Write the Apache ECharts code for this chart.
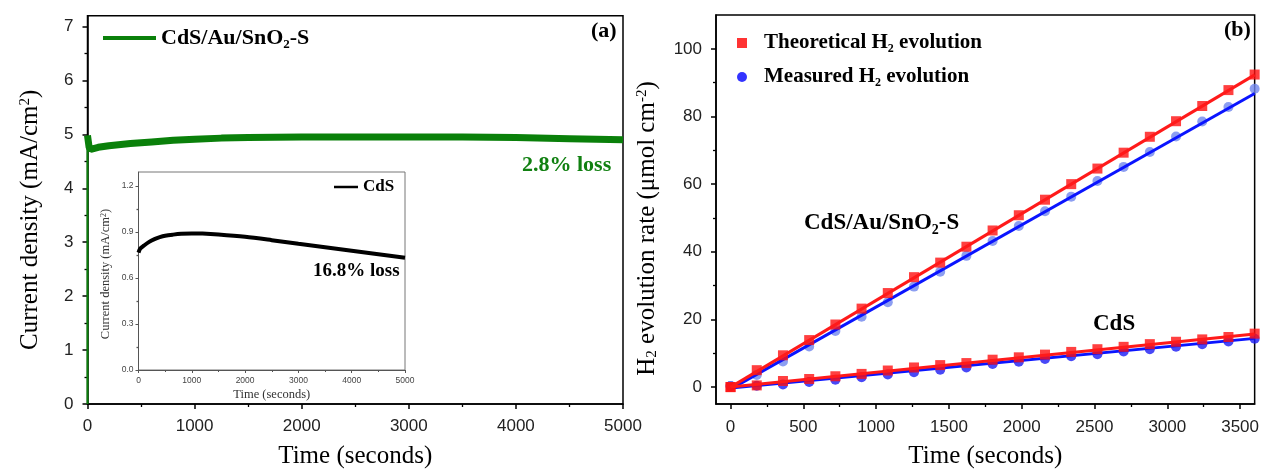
<!DOCTYPE html>
<html>
<head>
<meta charset="utf-8">
<script src="https://cdn.jsdelivr.net/npm/echarts@6.0.0/dist/echarts.min.js"></script>
<style>
html,body{margin:0;padding:0;background:#fff;}
#chart{width:1262px;height:474px;}
</style>
</head>
<body>
<div id="chart"></div>
<script>
// ---------- Data ----------
// (a) main: CdS/Au/SnO2-S chronoamperometry
const spikeT = [0, 0];
const spikeJ = [0, 4.98];
const greenT = [0, 15, 30, 100, 200, 400, 600, 800, 1000, 1250, 1500, 2000, 2500, 3000, 3500, 4000, 4500, 5000];
const greenJ = [4.98, 4.76, 4.72, 4.76, 4.79, 4.83, 4.86, 4.89, 4.91, 4.93, 4.94, 4.95, 4.95, 4.95, 4.95, 4.94, 4.92, 4.90];
// (a) inset: CdS
const insetT = [0, 30, 100, 200, 300, 400, 500, 650, 800, 1000, 1200, 1500, 2000, 2500, 3000, 3500, 4000, 4500, 5000];
const insetJ = [0.765, 0.79, 0.81, 0.835, 0.853, 0.866, 0.875, 0.882, 0.887, 0.89, 0.889, 0.883, 0.868, 0.846, 0.822, 0.80, 0.777, 0.754, 0.731];
// (b) H2 evolution
const times   = [0, 180, 360, 540, 720, 900, 1080, 1260, 1440, 1620, 1800, 1980, 2160, 2340, 2520, 2700, 2880, 3060, 3240, 3420, 3600];
const theoAu  = [0, 5.0, 9.4, 13.9, 18.5, 23.2, 27.8, 32.5, 36.8, 41.5, 46.3, 50.8, 55.4, 60.0, 64.6, 69.3, 74.0, 78.6, 83.1, 87.8, 92.4];
const measAu  = [0.3, 3.6, 7.6, 12.0, 16.6, 20.8, 25.1, 29.7, 34.1, 38.8, 43.2, 47.6, 52.0, 56.3, 60.9, 65.1, 69.5, 74.1, 78.5, 82.8, 88.2];
const theoCdS = [0, 0.5, 1.8, 2.4, 3.2, 3.9, 4.9, 5.8, 6.5, 7.1, 8.1, 8.8, 9.6, 10.4, 11.2, 11.9, 12.7, 13.4, 14.1, 14.8, 15.8];
const measCdS = [0.3, 0.4, 0.8, 1.5, 2.2, 2.9, 3.7, 4.4, 5.1, 5.8, 6.8, 7.5, 8.3, 9.1, 9.7, 10.5, 11.2, 11.9, 12.7, 13.5, 14.3];
// linear fit lines (end points)
const fitT       = [0, 3600];
const fitTheoAu  = [0.0, 92.3];
const fitMeasAu  = [-0.6, 86.8];
const fitTheoCdS = [0.0, 15.7];
const fitMeasCdS = [-0.3, 14.4];
// tick labels
const mainYTicks  = [0, 1, 2, 3, 4, 5, 6, 7];
const mainYMinor  = [0.5, 1.5, 2.5, 3.5, 4.5, 5.5, 6.5];
const insetYTicks = [0, 0.3, 0.6, 0.9, 1.2];
const insetYMinor = [0.15, 0.45, 0.75, 1.05];
const rightXTicks = [0, 500, 1000, 1500, 2000, 2500, 3000, 3500];
const rightXMinor = [250, 750, 1250, 1750, 2250, 2750, 3250];
const rightYTicks = [0, 20, 40, 60, 80, 100];
const rightYMinor = [10, 30, 50, 70, 90];

const zip = (a, b) => a.map((v, i) => [v, b[i]]);
const plain = v => String(v);

const SERIF = 'Liberation Serif';
const SANS = 'Liberation Sans';
const BLACK = '#000';

function mainAxisBase(extra) {
  return Object.assign({
    type: 'value',
    axisLine: { show: true, onZero: false, lineStyle: { color: BLACK, width: 1.5 } },
    axisTick: { show: true, inside: false, length: 5, lineStyle: { color: BLACK, width: 1.5 } },
    axisLabel: { color: '#222', fontFamily: SANS, fontSize: 17, margin: 14, formatter: plain },
    splitLine: { show: false },
    nameLocation: 'middle',
  }, extra);
}
function minorAxis(extra, vals, len, color) {
  return Object.assign({
    type: 'value',
    axisLine: { show: false, onZero: false },
    axisTick: { show: true, inside: false, length: len, customValues: vals, lineStyle: { color: color, width: 1.3 } },
    axisLabel: { show: false },
    splitLine: { show: false },
  }, extra);
}
const insetAxisColor = '#555';
function insetAxisBase(extra) {
  return Object.assign({
    type: 'value',
    axisLine: { show: true, onZero: false, lineStyle: { color: insetAxisColor, width: 1 } },
    axisTick: { show: true, inside: false, length: 3, lineStyle: { color: insetAxisColor, width: 1 } },
    axisLabel: { color: '#444', fontFamily: SANS, fontSize: 8.5, margin: 6, formatter: plain },
    splitLine: { show: false },
    nameLocation: 'middle',
  }, extra);
}

const option = {
  animation: false,
  backgroundColor: '#fff',
  textStyle: { fontFamily: SANS },
  grid: [
    { left: 87.5, right: 639, top: 15.7, bottom: 64.7, show: true, borderColor: BLACK, borderWidth: 1.5, backgroundColor: 'transparent' },
    { left: 138.5, right: 857, top: 172, bottom: 104, show: true, borderColor: '#777', borderWidth: 1, backgroundColor: '#fff', z: 3 },
    { left: 716, right: 5.3, top: 15, bottom: 66.3, show: true, borderColor: BLACK, borderWidth: 1.5, backgroundColor: 'transparent' },
  ],
  xAxis: [
    mainAxisBase({
      gridIndex: 0, min: 0, max: 5000, interval: 1000,
      minorTick: { show: true, splitNumber: 2, length: 3, lineStyle: { color: BLACK, width: 1.3 } },
      name: 'Time (seconds)', nameGap: 40,
      nameTextStyle: { fontFamily: SERIF, fontSize: 25, color: BLACK },
    }),
    insetAxisBase({
      gridIndex: 1, min: 0, max: 5000, interval: 1000, z: 4,
      minorTick: { show: true, splitNumber: 2, length: 2, lineStyle: { color: insetAxisColor, width: 1 } },
      name: 'Time (seconds)', nameGap: 18,
      nameTextStyle: { fontFamily: SERIF, fontSize: 12.5, color: '#333' },
    }),
    mainAxisBase({
      gridIndex: 2, min: -100, max: 3600,
      axisLabel: { color: '#222', fontFamily: SANS, fontSize: 17, margin: 15, customValues: rightXTicks, formatter: plain },
      axisTick: { show: true, inside: false, length: 5, customValues: rightXTicks, lineStyle: { color: BLACK, width: 1.5 } },
      name: 'Time (seconds)', nameGap: 40,
      nameTextStyle: { fontFamily: SERIF, fontSize: 25, color: BLACK },
    }),
    minorAxis({ gridIndex: 2, min: -100, max: 3600, position: 'bottom' }, rightXMinor, 3, BLACK),
  ],
  yAxis: [
    mainAxisBase({
      gridIndex: 0, min: 0, max: 7.2,
      axisLabel: { color: '#222', fontFamily: SANS, fontSize: 17, margin: 14, customValues: mainYTicks, formatter: plain },
      axisTick: { show: true, inside: false, length: 5, customValues: mainYTicks, lineStyle: { color: BLACK, width: 1.5 } },
      name: 'Current density (mA/cm{sup|2})', nameGap: 45,
      nameTextStyle: { fontFamily: SERIF, fontSize: 25, color: BLACK, padding: [0, 20, 0, 0],
        rich: { sup: { fontFamily: SERIF, fontSize: 15, verticalAlign: 'top', lineHeight: 14, color: BLACK } } },
    }),
    insetAxisBase({
      gridIndex: 1, min: 0, max: 1.29, z: 4,
      axisLabel: { color: '#444', fontFamily: SANS, fontSize: 8.5, margin: 5, customValues: insetYTicks,
        formatter: v => v.toFixed(1) },
      axisTick: { show: true, inside: false, length: 3, customValues: insetYTicks, lineStyle: { color: insetAxisColor, width: 1 } },
      name: 'Current density (mA/cm{sup|2})', nameGap: 26,
      nameTextStyle: { fontFamily: SERIF, fontSize: 12.5, color: '#333', padding: [0, 6, 0, 0],
        rich: { sup: { fontFamily: SERIF, fontSize: 8, verticalAlign: 'top', lineHeight: 8, color: '#333' } } },
    }),
    mainAxisBase({
      gridIndex: 2, min: -5, max: 110,
      axisLabel: { color: '#222', fontFamily: SANS, fontSize: 17, margin: 14, customValues: rightYTicks, formatter: plain },
      axisTick: { show: true, inside: false, length: 5, customValues: rightYTicks, lineStyle: { color: BLACK, width: 1.5 } },
      name: 'H{sub|2} evolution rate (μmol cm{sup|-2})', nameGap: 56,
      nameTextStyle: { fontFamily: SERIF, fontSize: 25, color: BLACK, padding: [0, 38, 0, 0],
        rich: {
          sub: { fontFamily: SERIF, fontSize: 15, verticalAlign: 'bottom', lineHeight: 14, color: BLACK },
          sup: { fontFamily: SERIF, fontSize: 15, verticalAlign: 'top', lineHeight: 14, color: BLACK },
        } },
    }),
    minorAxis({ gridIndex: 0, min: 0, max: 7.2, position: 'left' }, mainYMinor, 3, BLACK),
    minorAxis({ gridIndex: 1, min: 0, max: 1.29, position: 'left', z: 4 }, insetYMinor, 2, insetAxisColor),
    minorAxis({ gridIndex: 2, min: -5, max: 110, position: 'left' }, rightYMinor, 3, BLACK),
  ],
  legend: [
    {
      left: 103, top: 27, padding: 0, icon: 'rect', itemWidth: 53, itemHeight: 4,
      data: ['CdS/Au/SnO2-S'],
      formatter: () => '{b|CdS/Au/SnO}{s|2}{b|-S}',
      textStyle: {
        fontFamily: SERIF, fontWeight: 'bold', fontSize: 22, color: BLACK,
        rich: {
          b: { fontFamily: SERIF, fontWeight: 'bold', fontSize: 22, lineHeight: 26, color: BLACK },
          s: { fontFamily: SERIF, fontWeight: 'bold', fontSize: 13, lineHeight: 12, verticalAlign: 'bottom', color: BLACK },
        },
      },
    },
    {
      left: 334, top: 177, padding: 0, icon: 'rect', itemWidth: 24, itemHeight: 2.5, z: 5,
      data: ['CdS'],
      textStyle: { fontFamily: SERIF, fontWeight: 'bold', fontSize: 17, lineHeight: 20, color: BLACK },
    },
    {
      left: 737, top: 31, padding: 0, orient: 'vertical', itemWidth: 10, itemHeight: 10, itemGap: 10,
      data: [
        { name: 'Theoretical H2 evolution', icon: 'rect', itemStyle: { color: '#ff0000' } },
        { name: 'Measured H2 evolution', icon: 'circle', itemStyle: { color: '#0000ff' } },
      ],
      formatter: n => n.replace('H2', 'H{s|2}'),
      textStyle: {
        fontFamily: SERIF, fontWeight: 'bold', fontSize: 21, lineHeight: 24, color: BLACK, padding: [0, 0, 0, 12],
        rich: {
          s: { fontFamily: SERIF, fontWeight: 'bold', fontSize: 12, lineHeight: 12, verticalAlign: 'bottom', color: BLACK },
        },
      },
    },
  ],
  graphic: [
    { type: 'text', left: 591, top: 20, style: { text: '(a)', font: 'bold 22px "Liberation Serif"', fill: BLACK } },
    { type: 'text', left: 522, top: 154, style: { text: '2.8% loss', font: 'bold 22px "Liberation Serif"', fill: '#118011' } },
    { type: 'text', left: 313, top: 262, z: 10, style: { text: '16.8% loss', font: 'bold 19px "Liberation Serif"', fill: BLACK } },
    { type: 'text', left: 1224, top: 19, style: { text: '(b)', font: 'bold 22px "Liberation Serif"', fill: BLACK } },
    { type: 'text', left: 804, top: 212, style: {
        text: '{b|CdS/Au/SnO}{s|2}{b|-S}',
        rich: {
          b: { fontFamily: SERIF, fontWeight: 'bold', fontSize: 23, lineHeight: 28, fill: BLACK },
          s: { fontFamily: SERIF, fontWeight: 'bold', fontSize: 14, lineHeight: 13, verticalAlign: 'bottom', fill: BLACK },
        } } },
    { type: 'text', left: 1093, top: 313, style: { text: 'CdS', font: 'bold 23px "Liberation Serif"', fill: BLACK } },
  ],
  series: [
    {
      name: 'CdS/Au/SnO2-S', type: 'line', xAxisIndex: 0, yAxisIndex: 0,
      data: zip(greenT, greenJ), showSymbol: false, symbol: 'none',
      lineStyle: { color: '#0a800a', width: 7 }, itemStyle: { color: '#0a800a' }, z: 2,
    },
    {
      name: 'CdS/Au/SnO2-S', type: 'line', xAxisIndex: 0, yAxisIndex: 0,
      data: zip(spikeT, spikeJ), showSymbol: false, symbol: 'none',
      lineStyle: { color: '#0a800a', width: 2 }, itemStyle: { color: '#0a800a' }, z: 2,
    },
    {
      name: 'CdS', type: 'line', xAxisIndex: 1, yAxisIndex: 1,
      data: zip(insetT, insetJ), showSymbol: false, symbol: 'none', smooth: 0.3,
      lineStyle: { color: '#000', width: 4 }, itemStyle: { color: '#000' }, z: 5,
    },
    {
      name: 'Measured H2 evolution', type: 'scatter', xAxisIndex: 2, yAxisIndex: 2,
      data: zip(times, measCdS), symbol: 'circle', symbolSize: 10,
      itemStyle: { color: '#1a1af5' }, z: 2,
    },
    {
      name: 'Measured H2 evolution', type: 'scatter', xAxisIndex: 2, yAxisIndex: 2,
      data: zip(times, measAu), symbol: 'circle', symbolSize: 10,
      itemStyle: { color: '#6f86ee' }, z: 2,
    },
    {
      name: 'Fit measured CdS/Au/SnO2-S', type: 'line', xAxisIndex: 2, yAxisIndex: 2,
      data: zip(fitT, fitMeasAu), symbol: 'none', lineStyle: { color: '#0a14ff', width: 3 }, z: 3,
    },
    {
      name: 'Fit measured CdS', type: 'line', xAxisIndex: 2, yAxisIndex: 2,
      data: zip(fitT, fitMeasCdS), symbol: 'none', lineStyle: { color: '#0a14ff', width: 3 }, z: 3,
    },
    {
      name: 'Theoretical H2 evolution', type: 'scatter', xAxisIndex: 2, yAxisIndex: 2,
      data: zip(times, theoCdS), symbol: 'rect', symbolSize: 10,
      itemStyle: { color: '#ff1010' }, z: 4,
    },
    {
      name: 'Theoretical H2 evolution', type: 'scatter', xAxisIndex: 2, yAxisIndex: 2,
      data: zip(times, theoAu), symbol: 'rect', symbolSize: 10,
      itemStyle: { color: '#ff1010' }, z: 4,
    },
    {
      name: 'Fit theoretical CdS/Au/SnO2-S', type: 'line', xAxisIndex: 2, yAxisIndex: 2,
      data: zip(fitT, fitTheoAu), symbol: 'none', lineStyle: { color: '#ff1a1a', width: 3 }, z: 5,
    },
    {
      name: 'Fit theoretical CdS', type: 'line', xAxisIndex: 2, yAxisIndex: 2,
      data: zip(fitT, fitTheoCdS), symbol: 'none', lineStyle: { color: '#ff1a1a', width: 3 }, z: 5,
    },
  ],
};

const chart = echarts.init(document.getElementById('chart'), null, { renderer: 'canvas', width: 1262, height: 474 });
chart.setOption(option);
</script>
</body>
</html>
